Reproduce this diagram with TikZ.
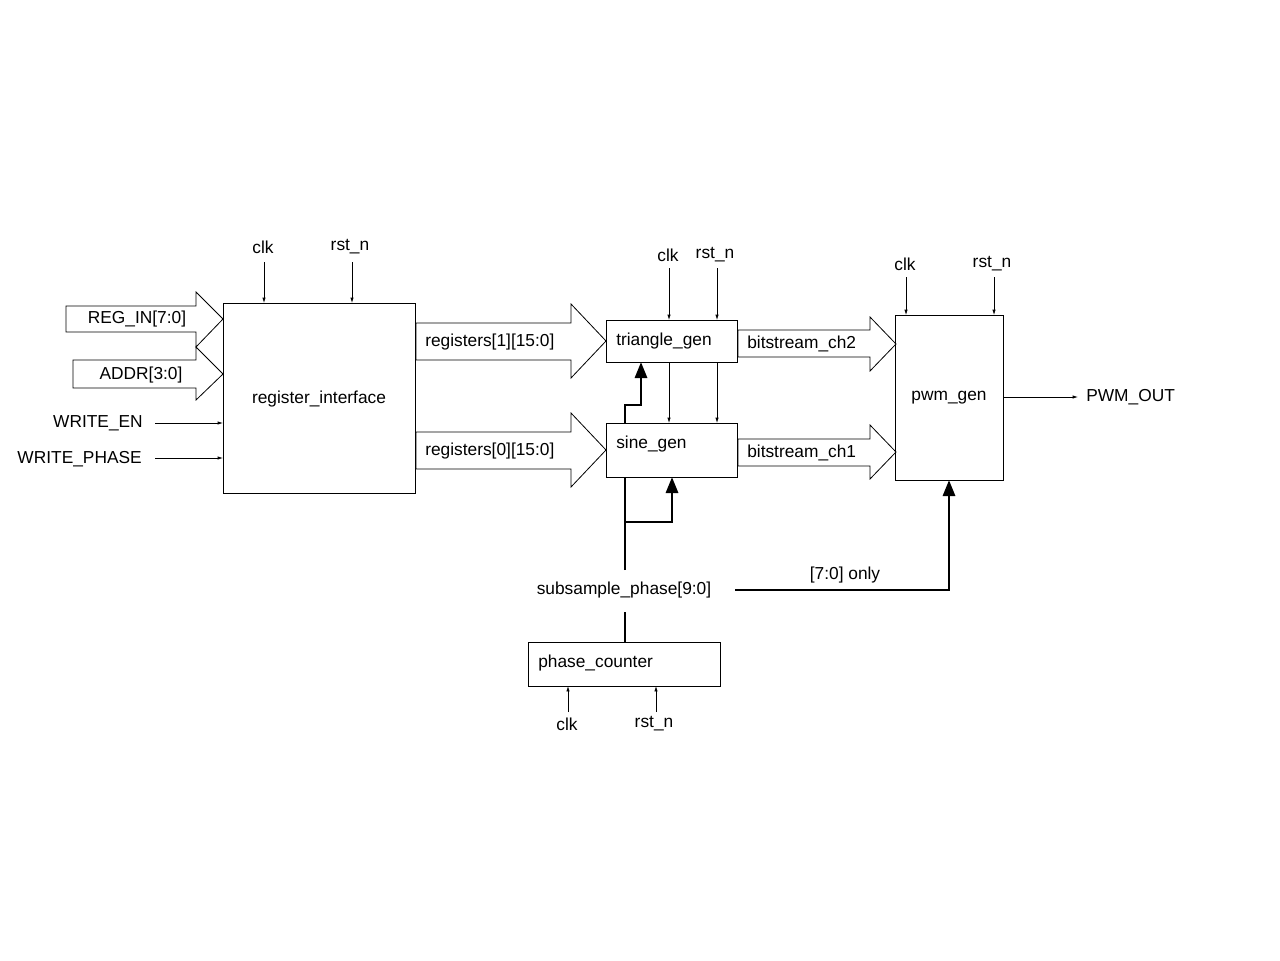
\documentclass[tikz,border=0pt]{standalone}
\usepackage{fontspec}
\setmainfont{Liberation Sans}
\usetikzlibrary{arrows.meta}
\begin{document}
\begin{tikzpicture}[x=0.75pt,y=-0.75pt,
  box/.style={draw,line width=0.6pt},
  fat/.style={draw,line width=0.6pt,fill=white},
  thin/.style={line width=0.5pt,-{Latex[length=4pt,width=2.5pt]}},
  thick/.style={line width=2.2pt},
  thickarr/.style={line width=2.2pt,-{Triangle[length=12pt,width=9pt]}},
  lbl/.style={font=\fontsize{13}{15}\selectfont,inner sep=0pt}]
\useasboundingbox (0,0) rectangle (1280,960);
% boxes
\draw[box] (223,303) rectangle (415,493);
\node[lbl] (ri) at (319,399) {register\_interface};
\coordinate (rinw) at (223,303);
\draw[box] (606,320) rectangle (737,362);
\node[lbl,anchor=west] (tg) at (616,341) {triangle\_gen};
\draw[box] (606,423) rectangle (737,477);
\node[lbl,anchor=west] (sg) at (616,444) {sine\_gen};
\draw[box] (895,315) rectangle (1003,480);
\node[lbl] (pg) at (949,398) {pwm\_gen};
\draw[box] (528,642) rectangle (720,686);
\node[lbl,anchor=west] (pc) at (538,663) {phase\_counter};
% fat arrows
\draw[fat] (66,306)--(196,306)--(196,292)--(223,319)--(196,347)--(196,332)--(66,332)--cycle;
\node[lbl] (regin) at (137,319) {REG\_IN[7:0]};
\draw[fat] (73,360)--(196,360)--(196,347)--(223,374)--(196,400)--(196,388)--(73,388)--cycle;
\node[lbl] (addr) at (141,375) {ADDR[3:0]};
\draw[fat] (416,323)--(571,323)--(571,304)--(606,341)--(571,378)--(571,360)--(416,360)--cycle;
\node[lbl,anchor=west] (r1) at (425,342) {registers[1][15:0]};
\draw[fat] (416,432)--(571,432)--(571,413)--(606,450)--(571,487)--(571,469)--(416,469)--cycle;
\node[lbl,anchor=west] (r0) at (425,451) {registers[0][15:0]};
\draw[fat] (738,330)--(870,330)--(870,317)--(896,344)--(870,371)--(870,357)--(738,357)--cycle;
\node[lbl,anchor=west] (b2) at (747,344) {bitstream\_ch2};
\draw[fat] (738,439)--(870,439)--(870,425)--(896,452)--(870,479)--(870,466)--(738,466)--cycle;
\node[lbl,anchor=west] (b1) at (747,453) {bitstream\_ch1};
% clk/rst labels
\node[lbl] (c1) at (263,247) {clk};
\node[lbl] (r1n) at (350,247) {rst\_n};
\node[lbl] (c2) at (668,255) {clk};
\node[lbl] (r2n) at (715,255) {rst\_n};
\node[lbl] (c3) at (905,264) {clk};
\node[lbl] (r3n) at (992,264) {rst\_n};
\node[lbl] (c4) at (567,724) {clk};
\node[lbl] (r4n) at (654,724) {rst\_n};
\draw[thin] (264,262)--(264,303);
\draw[thin] (352,262)--(352,303);
\draw[thin] (669,268)--(669,320);
\draw[thin] (717,268)--(717,320);
\draw[thin] (669,362)--(669,423);
\draw[thin] (717,362)--(717,423);
\draw[thin] (906,277)--(906,315);
\draw[thin] (994,277)--(994,315);
\draw[thin] (568,712)--(568,686);
\draw[thin] (656,712)--(656,686);
% side signals
\node[lbl,anchor=east] (we) at (143,423) {WRITE\_EN};
\node[lbl,anchor=east] (wp) at (142,459) {WRITE\_PHASE};
\draw[thin] (155,423)--(223,423);
\draw[thin] (155,458)--(223,458);
\node[lbl,anchor=west] (po) at (1086,397) {PWM\_OUT};
\draw[thin] (1003,397)--(1078,397);
% phase
\node[lbl] (sp) at (624,590) {subsample\_phase[9:0]};
\node[lbl] (only) at (845,575) {[7:0] only};
\draw[thick] (625,642)--(625,612);
\draw[thick] (625,570)--(625,477);
\draw[thickarr] (625,522)--(672,522)--(672,477);
\draw[thickarr] (625,423)--(625,405)--(641,405)--(641,362);
\draw[thickarr] (735,590)--(949,590)--(949,480);
\end{tikzpicture}
\end{document}
